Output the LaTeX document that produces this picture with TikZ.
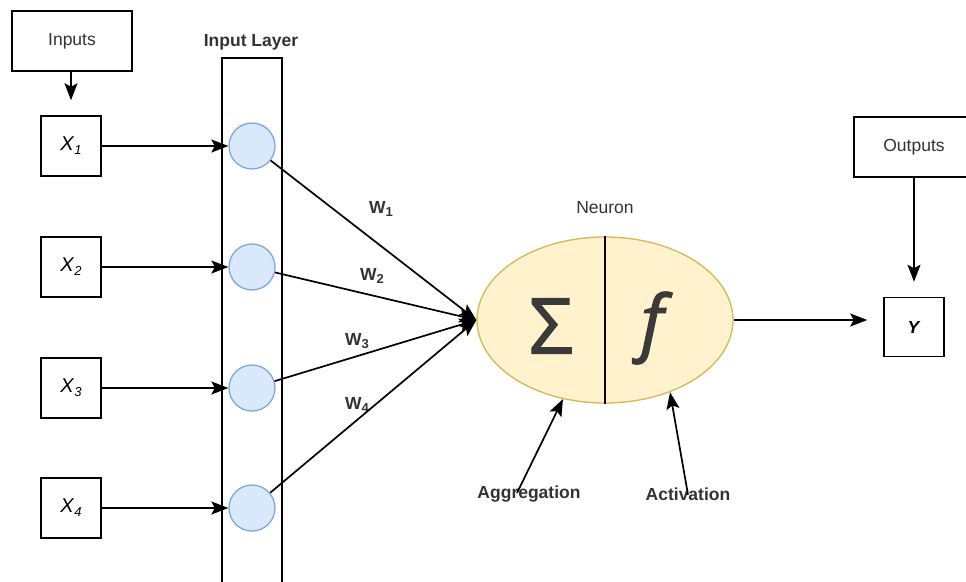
\documentclass[tikz,border=0pt]{standalone}
\usepackage{fontspec}
\setmainfont{Liberation Sans}
\newfontfamily\osans{Open Sans}[FakeBold=1.8]
\usetikzlibrary{shapes.geometric,arrows.meta}
\definecolor{txt}{HTML}{333333}
\definecolor{sym}{HTML}{3A3A3A}
\definecolor{cfill}{HTML}{DAE8FC}
\definecolor{cdraw}{HTML}{7EA6E0}
\definecolor{nfill}{HTML}{FFF2CC}
\definecolor{ndraw}{HTML}{D6B656}
\newcommand{\xsub}[2]{\textit{#1}\raisebox{-4pt}{\fontsize{13}{13}\selectfont\itshape #2}}
\newcommand{\wsub}[2]{\textbf{#1}\raisebox{-3pt}{\fontsize{13}{13}\selectfont\bfseries #2}}
\begin{document}
\begin{tikzpicture}[x=1pt,y=-1pt,line width=1.7pt,
  box/.style={draw, line width=1.5pt, minimum width=60pt, minimum height=60pt, inner sep=0pt, text=txt, font=\fontsize{17.5}{20}\selectfont},
  xbox/.style={box, text=black, font=\fontsize{20}{22}\selectfont},
  wbox/.style={box, minimum width=120pt},
  neur/.style={draw=cdraw, fill=cfill, circle, minimum size=46pt, inner sep=0pt, line width=1.3pt},
  arr/.style={-{Stealth[length=17pt,width=13pt,inset=3.5pt]}},
  lab/.style={text=txt, font=\fontsize{17.5}{20}\selectfont, inner sep=0pt},
  blab/.style={lab, font=\fontsize{17.5}{20}\selectfont\bfseries}]
\useasboundingbox (0,0) rectangle (966,581);

% input layer column
\node[draw, line width=1.5pt, minimum width=60pt, minimum height=560pt, inner sep=0pt, anchor=north] (layer) at (252,57) {};
\node[blab] (layerlab) at (251,42) {Input Layer};

% inputs
\node[wbox] (inputs) at (72,41) {Inputs};
\node[xbox] (x1) at (71,146) {\xsub{X}{1}};
\node[xbox] (x2) at (71,267) {\xsub{X}{2}};
\node[xbox] (x3) at (71,388) {\xsub{X}{3}};
\node[xbox] (x4) at (71,508) {\xsub{X}{4}};

% neurons of input layer
\node[neur] (c1) at (252,146) {};
\node[neur] (c2) at (252,267) {};
\node[neur] (c3) at (252,388) {};
\node[neur] (c4) at (252,508) {};

% neuron
\node[ellipse, draw=ndraw, fill=nfill, line width=1.3pt, minimum width=256pt, minimum height=166pt, inner sep=0pt] (neuron) at (605,320) {};
\draw (neuron.north) -- (neuron.south);
\node[lab] (neulab) at (605,208) {Neuron};
\node[text=sym, inner sep=0pt, font=\osans\fontsize{77}{77}\selectfont] (sigma) at (551,326) {Σ};
\node[text=sym, inner sep=0pt, font=\osans\itshape\fontsize{72}{72}\selectfont] (fsym) at (652,328) {f};

% outputs
\node[wbox] (outputs) at (914,147) {Outputs};
\node[box, minimum height=59pt, text=black, font=\fontsize{17.5}{20}\selectfont] (y) at (914,327) {\textbf{\textit{Y}}};

% labels
\node[blab] (w1) at (381,209) {\wsub{W}{1}};
\node[blab] (w2) at (372,276) {\wsub{W}{2}};
\node[blab] (w3) at (357,341) {\wsub{W}{3}};
\node[blab] (w4) at (357,405) {\wsub{W}{4}};
\node[blab] (aggr) at (529,494) {Aggregation};
\node[blab] (act) at (688,494) {Activation};

% connectors
\draw[arr, shorten >=15pt] (inputs.south -| x1.north) -- (x1.north);
\draw[arr] (x1) -- (c1);
\draw[arr] (x2) -- (c2);
\draw[arr] (x3) -- (c3);
\draw[arr] (x4) -- (c4);
\draw[arr] (c1) -- (neuron.west);
\draw[arr] (c2) -- (neuron.west);
\draw[arr] (c3) -- (neuron.west);
\draw[arr] (c4) -- (neuron.west);
\draw[arr, shorten >=16pt] (neuron.east) -- (neuron.east -| y.west);
\draw[arr, shorten >=15pt] (outputs.south -| y.north) -- (y.north);
\draw[arr] ([xshift=-12pt,yshift=-8pt]aggr.north) -- (neuron.242);
\draw[arr] ([yshift=-8pt]act.north) -- (neuron.312);
\end{tikzpicture}
\end{document}
